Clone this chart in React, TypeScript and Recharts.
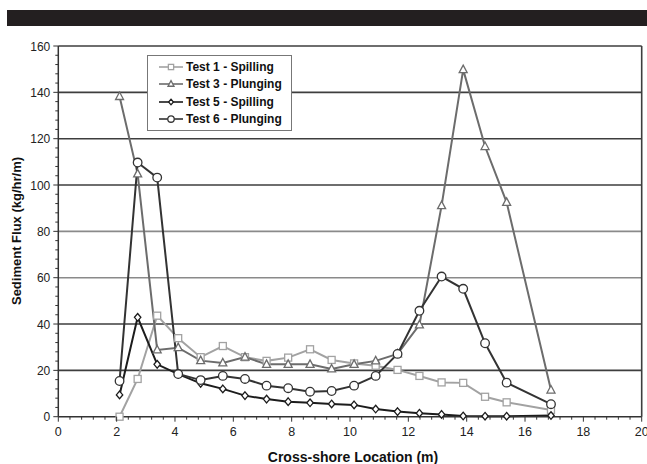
import { LineChart, Line, XAxis, YAxis, ReferenceLine, Legend } from "recharts"

// cross-shore position of each sampling station (m)
const location = [2.1, 2.72, 3.39, 4.11, 4.88, 5.64, 6.4, 7.14, 7.88, 8.63, 9.37, 10.14, 10.88, 11.63, 12.38, 13.14, 13.88, 14.63, 15.37, 16.89]

// sediment flux per station (kg/hr/m)
const test1Spilling = [0, 16.3, 43.6, 33.9, 25.7, 30.5, 25.7, 24.1, 25.5, 29.1, 24.5, 23.0, 22.0, 20.2, 17.6, 14.8, 14.6, 8.6, 6.2, 2.9]
const test3Plunging = [138.2, 104.8, 28.8, 29.8, 24.2, 23.2, 25.7, 22.6, 22.6, 22.6, 20.6, 22.6, 24.1, 27.1, 39.6, 91.1, 149.8, 116.6, 92.5, 11.5]
const test5Spilling = [9.4, 42.9, 22.6, 18.4, 14.4, 12.0, 9.1, 7.6, 6.5, 6.0, 5.5, 5.1, 3.3, 2.2, 1.5, 1.0, 0.3, 0.2, 0.2, 0.5]
const test6Plunging = [15.4, 109.7, 103.2, 18.4, 15.8, 17.6, 16.3, 13.4, 12.3, 10.8, 11.1, 13.4, 17.6, 27.1, 45.7, 60.5, 55.2, 31.7, 14.7, 5.4]

const gridValues = [20, 40, 60, 80, 100, 120, 140, 160]

const data = location.map((x, i) => ({
  x,
  t1: test1Spilling[i],
  t3: test3Plunging[i],
  t5: test5Spilling[i],
  t6: test6Plunging[i],
}))

type MarkerKind = "square" | "triangle" | "diamond" | "circle"

const series: { key: string; name: string; color: string; marker: MarkerKind }[] = [
  { key: "t1", name: "Test 1 - Spilling", color: "#a2a2a2", marker: "square" },
  { key: "t3", name: "Test 3 - Plunging", color: "#6c6c6c", marker: "triangle" },
  { key: "t5", name: "Test 5 - Spilling", color: "#1c1c1c", marker: "diamond" },
  { key: "t6", name: "Test 6 - Plunging", color: "#333333", marker: "circle" },
]

// minor ticks every 0.4 m / 4 kg/hr/m, labelled every fifth one
const xTicks = Array.from({ length: 51 }, (_, i) => Math.round(i * 4) / 10)
const yTicks = Array.from({ length: 41 }, (_, i) => i * 4)

const FONT = "'Liberation Sans', Arial, sans-serif"

function Marker({ kind, cx, cy, color, s = 1 }: { kind: MarkerKind; cx: number; cy: number; color: string; s?: number }) {
  const common = { fill: "#fff", stroke: color, strokeWidth: 1.3 }
  if (kind === "square") return <rect x={cx - 3.5 * s} y={cy - 3.5 * s} width={7 * s} height={7 * s} {...common} />
  if (kind === "triangle")
    return <polygon points={`${cx},${cy - 4.5 * s} ${cx + 4 * s},${cy + 3 * s} ${cx - 4 * s},${cy + 3 * s}`} {...common} />
  if (kind === "diamond")
    return (
      <polygon
        points={`${cx},${cy - 3.8 * s} ${cx + 3.2 * s},${cy} ${cx},${cy + 3.8 * s} ${cx - 3.2 * s},${cy}`}
        {...common}
      />
    )
  return <circle cx={cx} cy={cy} r={4.3 * s} {...common} />
}

function XTick(props: any) {
  const { x, y, index, payload } = props
  const major = index % 5 === 0
  return (
    <g>
      <line x1={x} x2={x} y1={y} y2={y + (major ? 5 : 3)} stroke="#333" strokeWidth={1} />
      {major && (
        <text x={x} y={y + 19.5} textAnchor="middle" fontSize={12.5} fontFamily={FONT} fill="#222">
          {payload.value}
        </text>
      )}
    </g>
  )
}

function YTick(props: any) {
  const { x, y, index, payload } = props
  const major = index % 5 === 0
  return (
    <g>
      <line x1={x - (major ? 5 : 3)} x2={x} y1={y} y2={y} stroke="#333" strokeWidth={1} />
      {major && (
        <text x={x - 8} y={y + 4.5} textAnchor="end" fontSize={12} fontFamily={FONT} fill="#222">
          {payload.value}
        </text>
      )}
    </g>
  )
}

function LegendBox() {
  return (
    <div
      style={{
        background: "#fff",
        border: "1px solid #777",
        padding: "2px 4px 2px 10px",
        fontFamily: FONT,
        fontWeight: "bold",
        fontSize: 12,
        color: "#111",
        boxSizing: "border-box",
        width: 145,
      }}
    >
      {series.map((s) => (
        <div key={s.key} style={{ display: "flex", alignItems: "center", height: 17.5, whiteSpace: "nowrap" }}>
          <svg width={26} height={12} style={{ marginRight: 2 }}>
            <line x1={1} x2={25} y1={6} y2={6} stroke={s.color} strokeWidth={1.6} />
            <Marker kind={s.marker} cx={13} cy={6} color={s.color} s={0.75} />
          </svg>
          <span>{s.name}</span>
        </div>
      ))}
    </div>
  )
}

export default function App() {
  return (
    <div style={{ position: "absolute", left: 0, top: 0, width: 647, height: 464, background: "#fff" }}>
      <div style={{ position: "absolute", left: 7, top: 10, width: 640, height: 16, background: "#231f20" }} />
      <LineChart width={647} height={464} data={data} margin={{ top: 46, right: 5.3, left: 30.3, bottom: 7.3 }}>
        <XAxis
          dataKey="x"
          type="number"
          domain={[0, 20]}
          ticks={xTicks}
          interval={0}
          height={40}
          tickSize={0}
          tickMargin={0}
          tickLine={false}
          tick={<XTick />}
          axisLine={{ stroke: "#333", strokeWidth: 1.5 }}
          label={{
            content: () => (
              <text x={353} y={462} textAnchor="middle" fontSize={14} fontWeight="bold" fontFamily={FONT} fill="#111">
                Cross-shore Location (m)
              </text>
            ),
          }}
        />
        <YAxis
          type="number"
          domain={[0, 160]}
          ticks={yTicks}
          interval={0}
          width={28}
          tickSize={0}
          tickMargin={0}
          tickLine={false}
          tick={<YTick />}
          axisLine={{ stroke: "#333", strokeWidth: 1.5 }}
          label={{
            content: () => (
              <text
                x={21}
                y={231}
                transform="rotate(-90 21 231)"
                textAnchor="middle"
                fontSize={13}
                fontWeight="bold"
                fontFamily={FONT}
                fill="#111"
              >
                Sediment Flux (kg/hr/m)
              </text>
            ),
          }}
        />
        {gridValues.map((v) => (
          <ReferenceLine
            key={v}
            y={v}
            stroke={v === 60 || v === 80 ? "#8a8a8a" : "#3e3e3e"}
            strokeWidth={1.6}
          />
        ))}
        <ReferenceLine x={20} stroke="#3e3e3e" strokeWidth={1.6} />
        <Legend
          layout="vertical"
          align="center"
          verticalAlign="middle"
          wrapperStyle={{ left: 147, top: 55, width: 145 }}
          content={() => <LegendBox />}
        />
        {series.map((s) => (
          <Line
            key={s.key}
            dataKey={s.key}
            name={s.name}
            type="linear"
            stroke={s.color}
            strokeWidth={2}
            isAnimationActive={false}
            dot={(p: any) => <Marker key={`${s.key}-${p.index}`} kind={s.marker} cx={p.cx} cy={p.cy} color={s.color} />}
            activeDot={false}
          />
        ))}
      </LineChart>
    </div>
  )
}
